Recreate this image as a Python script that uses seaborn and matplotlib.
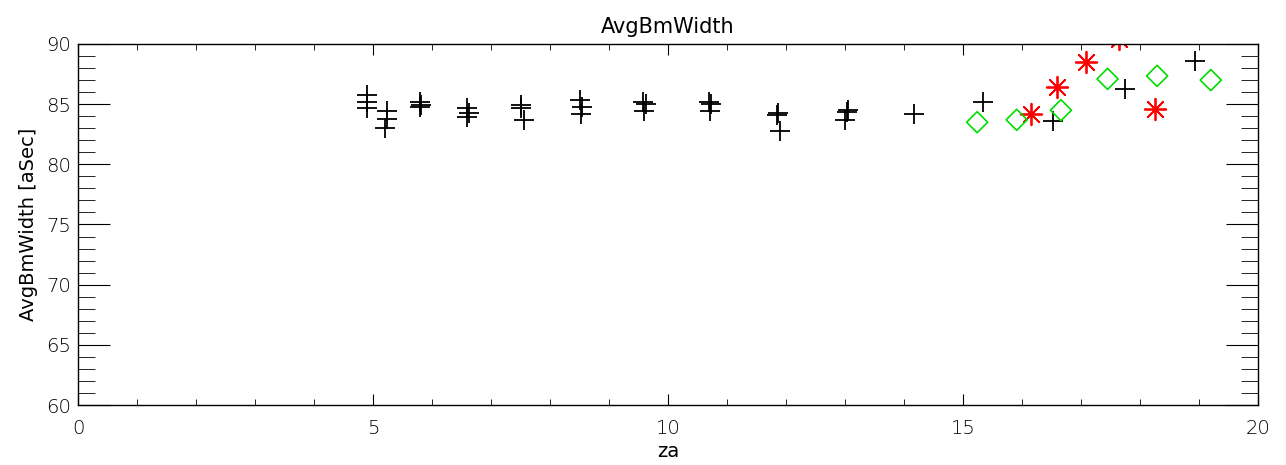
import numpy as np
import pandas as pd
import seaborn as sns
import matplotlib.pyplot as plt
from matplotlib.ticker import MultipleLocator

# black plus points
plus_za = [4.89, 4.89, 4.89, 5.23, 5.23, 5.21, 5.80, 5.82, 5.80, 6.59, 6.63, 6.60,
           7.51, 7.50, 7.56, 8.50, 8.54, 8.52, 9.58, 9.62, 9.60, 10.70, 10.73, 10.72,
           11.86, 11.84, 11.90, 13.05, 13.03, 13.00, 14.17, 15.34, 16.53, 17.75, 18.93]
plus_bw = [85.8, 85.2, 84.7, 84.4, 83.75, 83.0, 85.15, 84.95, 84.75, 84.65, 84.3, 83.9,
           84.95, 84.65, 83.7, 85.35, 84.8, 84.15, 85.15, 85.0, 84.45, 85.15, 85.0, 84.4,
           84.3, 84.1, 82.8, 84.5, 84.35, 83.65, 84.2, 85.2, 83.6, 86.3, 88.6]

# red asterisks
star_za = [16.16, 16.59, 17.08, 17.64, 18.25]
star_bw = [84.15, 86.4, 88.5, 90.4, 84.6]

# green diamonds
diam_za = [15.24, 15.91, 16.66, 17.45, 18.29, 19.20]
diam_bw = [83.5, 83.7, 84.5, 87.1, 87.35, 87.0]

sns.set_style("ticks")
plt.rcParams['font.family'] = ['DejaVu Sans']
plt.rcParams['text.color'] = 'black'
plt.rcParams['axes.labelcolor'] = 'black'
plt.rcParams['xtick.color'] = 'black'
plt.rcParams['ytick.color'] = 'black'
plt.rcParams['font.weight'] = 'light'

fig = plt.figure(figsize=(12.86, 4.65), dpi=100)
ax = fig.add_axes([78/1286, 1-405/465, 1180/1286, 361/465])

sns.scatterplot(x=plus_za, y=plus_bw, marker='+', color='black', s=190, linewidth=1.3, ax=ax)
sns.scatterplot(x=star_za, y=star_bw, marker=(8, 2, 0), color='#ff0000', s=240, linewidth=1.3, ax=ax)
sns.scatterplot(x=diam_za, y=diam_bw, marker='D', facecolor='none', edgecolor='#00dd00',
                s=115, linewidth=1.2, ax=ax)
for c in ax.collections:
    c.set_clip_on(True)
    c.set_clip_path(ax.patch)

ax.set_xlim(0, 20)
ax.set_ylim(60, 90)
ax.xaxis.set_major_locator(MultipleLocator(5))
ax.xaxis.set_minor_locator(MultipleLocator(1))
ax.yaxis.set_major_locator(MultipleLocator(5))
ax.yaxis.set_minor_locator(MultipleLocator(1))
ax.tick_params(axis='x', which='major', direction='in', length=8, top=True, labelsize=14, pad=10)
ax.tick_params(axis='x', which='minor', direction='in', length=4, top=True)
ax.tick_params(axis='y', which='major', direction='in', length=23, right=True, labelsize=14, pad=5)
ax.tick_params(axis='y', which='minor', direction='in', length=12, right=True)
for s in ax.spines.values():
    s.set_linewidth(1.0)
    s.set_color('black')

ax.set_title("AvgBmWidth", fontsize=15, pad=8)
ax.set_xlabel("za", fontsize=14, labelpad=3)
ax.set_ylabel("AvgBmWidth [aSec]", fontsize=14, labelpad=6)

plt.savefig("out.png", dpi=100)
